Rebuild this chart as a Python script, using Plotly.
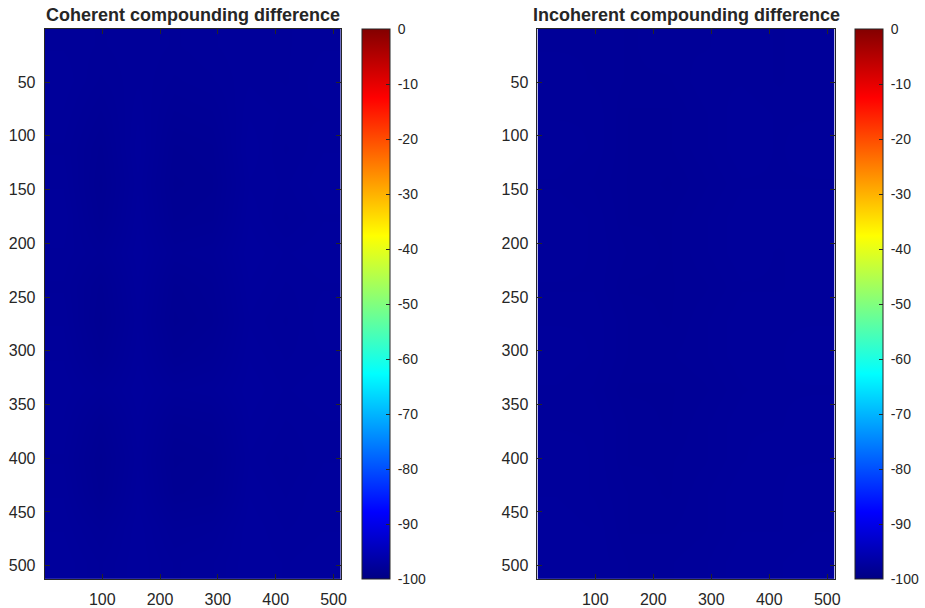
import plotly.graph_objects as go

# ---- data (coarse read of the two difference maps, dB) ----
col_centers = [32.5, 96.5, 160.5, 224.5, 288.5, 352.5, 416.5, 480.5]
row_centers = [16.5, 48.5, 80.5, 112.5, 144.5, 176.5, 208.5, 240.5,
               272.5, 304.5, 336.5, 368.5, 400.5, 432.5, 464.5, 496.5]

coherent_db = [
    [-97.8, -97.9, -97.8, -97.9, -97.8, -97.7, -97.8, -97.7],
    [-97.7, -98.0, -97.8, -98.0, -97.9, -97.7, -97.8, -97.6],
    [-97.8, -98.2, -97.7, -98.2, -98.1, -97.6, -97.7, -97.7],
    [-97.9, -98.4, -97.6, -98.4, -98.3, -97.5, -97.8, -97.6],
    [-97.8, -98.5, -97.7, -98.5, -98.4, -97.6, -97.7, -97.5],
    [-97.7, -98.4, -97.6, -98.4, -98.3, -97.5, -97.8, -97.6],
    [-97.8, -98.1, -97.5, -98.1, -98.0, -97.4, -97.6, -97.5],
    [-97.9, -98.4, -97.6, -98.4, -98.2, -97.5, -97.7, -97.6],
    [-97.8, -98.5, -97.7, -98.5, -98.3, -97.6, -97.8, -97.5],
    [-97.7, -98.3, -97.6, -98.3, -98.1, -97.5, -97.7, -97.6],
    [-97.6, -97.9, -97.5, -97.9, -97.8, -97.4, -97.6, -97.5],
    [-97.7, -98.3, -97.6, -98.3, -98.2, -97.5, -97.7, -97.6],
    [-97.8, -98.5, -97.7, -98.5, -98.4, -97.6, -97.8, -97.6],
    [-97.7, -98.4, -97.6, -98.4, -98.3, -97.5, -97.7, -97.5],
    [-97.6, -98.0, -97.5, -98.0, -97.9, -97.4, -97.6, -97.5],
    [-97.5, -97.8, -97.5, -97.8, -97.7, -97.4, -97.5, -97.4],
]

incoherent_db = [
    [-97.9, -97.9, -98.0, -97.9, -97.9, -97.8, -97.9, -97.8],
    [-97.8, -97.9, -98.0, -98.0, -97.8, -97.8, -97.9, -97.8],
    [-97.8, -97.8, -98.1, -98.1, -97.9, -97.7, -97.8, -97.8],
    [-97.7, -97.8, -98.1, -98.1, -97.9, -97.7, -97.8, -97.7],
    [-97.8, -97.9, -98.1, -98.2, -98.0, -97.8, -97.8, -97.8],
    [-97.7, -97.8, -98.1, -98.1, -97.9, -97.7, -97.7, -97.7],
    [-97.7, -97.8, -98.0, -98.1, -97.9, -97.7, -97.8, -97.7],
    [-97.8, -97.8, -98.1, -98.1, -98.0, -97.8, -97.8, -97.7],
    [-97.7, -97.7, -98.0, -98.1, -97.9, -97.7, -97.7, -97.7],
    [-97.6, -97.7, -98.0, -98.0, -97.9, -97.7, -97.7, -97.6],
    [-97.7, -97.8, -98.1, -98.1, -98.0, -97.8, -97.7, -97.7],
    [-97.7, -97.7, -98.0, -98.1, -97.9, -97.7, -97.7, -97.6],
    [-97.6, -97.7, -98.0, -98.0, -97.9, -97.7, -97.6, -97.6],
    [-97.6, -97.7, -97.9, -98.0, -97.8, -97.6, -97.6, -97.5],
    [-97.5, -97.6, -97.9, -97.9, -97.8, -97.6, -97.6, -97.5],
    [-97.5, -97.6, -97.8, -97.8, -97.7, -97.5, -97.5, -97.4],
]

titles = ["Coherent compounding difference", "Incoherent compounding difference"]
x_ticks = [100, 200, 300, 400, 500]
y_ticks = [50, 100, 150, 200, 250, 300, 350, 400, 450, 500]
cbar_ticks = [0, -10, -20, -30, -40, -50, -60, -70, -80, -90, -100]
z_min, z_max = -100, 0

jet = [
    [0.0, "rgb(0,0,131)"],
    [0.122, "rgb(0,0,255)"],
    [0.373, "rgb(0,255,255)"],
    [0.624, "rgb(255,255,0)"],
    [0.875, "rgb(255,0,0)"],
    [1.0, "rgb(131,0,0)"],
]

W, H = 925, 608
ink = "#262626"
font_family = "Liberation Sans, Arial, Helvetica, sans-serif"

ax_x = [(45, 343), (541, 840)]
cb_x = [364, 861]
top_px, bot_px = 29, 582
ydom = [1 - bot_px / H, 1 - top_px / H]

fig = go.Figure()
for i, z in enumerate([coherent_db, incoherent_db]):
    xa = "x" if i == 0 else "x2"
    ya = "y" if i == 0 else "y2"
    fig.add_trace(go.Heatmap(
        z=z, x=col_centers, y=row_centers,
        zmin=z_min, zmax=z_max, colorscale=jet, zsmooth="best",
        xaxis=xa, yaxis=ya,
        colorbar=dict(
            x=cb_x[i] / W, xanchor="left", xpad=0, ypad=0,
            y=ydom[0], yanchor="bottom",
            len=ydom[1] - ydom[0], lenmode="fraction",
            thickness=28, thicknessmode="pixels",
            outlinecolor=ink, outlinewidth=1,
            tickvals=cbar_ticks,
            ticktext=["\u00a0" + str(t) for t in cbar_ticks],
            ticks="inside", ticklen=4, tickcolor=ink,
            tickfont=dict(family=font_family, size=14, color=ink),
        ),
    ))

layout_axes = {}
for i in range(2):
    sfx = "" if i == 0 else "2"
    layout_axes["xaxis" + sfx] = dict(
        domain=[ax_x[i][0] / W, ax_x[i][1] / W],
        range=[0.5, 512.5], tickvals=x_ticks,
        ticks="inside", ticklen=5, tickcolor=ink,
        showline=True, linecolor=ink, linewidth=1, mirror="ticks",
        showgrid=False, zeroline=False,
        tickfont=dict(family=font_family, size=16, color=ink),
        ticklabelstandoff=6,
        anchor="y" + sfx,
    )
    layout_axes["yaxis" + sfx] = dict(
        domain=ydom,
        range=[512.5, 0.5], tickvals=y_ticks,
        ticks="inside", ticklen=5, tickcolor=ink,
        showline=True, linecolor=ink, linewidth=1, mirror="ticks",
        showgrid=False, zeroline=False,
        tickfont=dict(family=font_family, size=16, color=ink),
        ticklabelstandoff=5,
        anchor="x" + sfx,
    )

annotations = []
for i in range(2):
    annotations.append(dict(
        text="<b>" + titles[i] + "</b>",
        x=(ax_x[i][0] + ax_x[i][1]) / 2 / W, y=1 - 27 / H,
        xref="paper", yref="paper", xanchor="center", yanchor="bottom",
        showarrow=False,
        font=dict(family=font_family, size=18, color=ink),
    ))

fig.update_layout(
    width=W, height=H,
    margin=dict(l=0, r=0, t=0, b=0),
    paper_bgcolor="white", plot_bgcolor="white",
    showlegend=False,
    annotations=annotations,
    **layout_axes,
)

fig.write_html(
    "out.html",
    config={"displayModeBar": False},
    post_script="document.body.style.margin='0px';document.body.style.padding='0px';",
)
